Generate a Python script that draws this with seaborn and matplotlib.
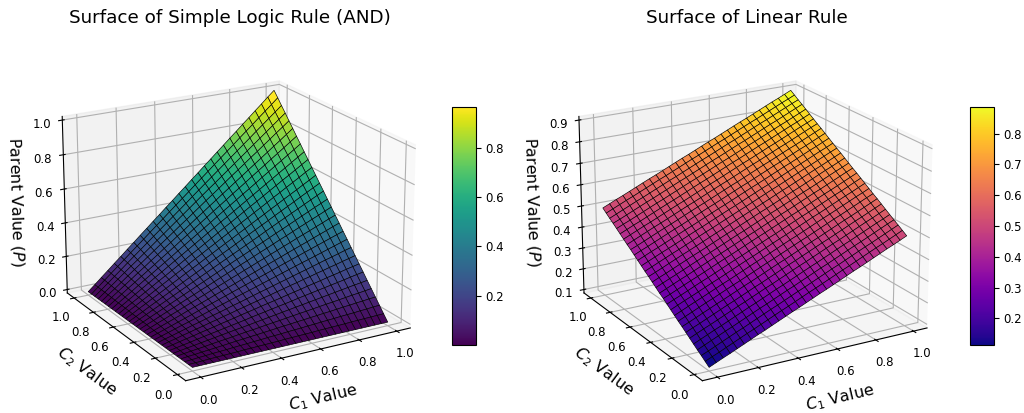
import matplotlib
matplotlib.use('Agg')
import matplotlib.pyplot as plt
import seaborn as sns
import numpy as np

c_values = [0, .0345, .0690, .1034, .1379, .1724, .2069, .2414, .2759, .3103,
            .3448, .3793, .4138, .4483, .4828, .5172, .5517, .5862, .6207, .6552,
            .6897, .7241, .7586, .7931, .8276, .8621, .8966, .9310, .9655, 1.0]

# строки - C2, столбцы - C1
and_values = [
    [.000, .000, .000, .000, .000, .000, .000, .000, .000, .000, .000, .000, .000, .000, .000, .000, .000, .000, .000, .000, .000, .000, .000, .000, .000, .000, .000, .000, .000, .000],
    [.000, .001, .002, .004, .005, .006, .007, .008, .010, .011, .012, .013, .014, .015, .017, .018, .019, .020, .021, .023, .024, .025, .026, .027, .029, .030, .031, .032, .033, .034],
    [.000, .002, .005, .007, .010, .012, .014, .017, .019, .021, .024, .026, .029, .031, .033, .036, .038, .040, .043, .045, .048, .050, .052, .055, .057, .059, .062, .064, .067, .069],
    [.000, .004, .007, .011, .014, .018, .021, .025, .029, .032, .036, .039, .043, .046, .050, .054, .057, .061, .064, .068, .071, .075, .078, .082, .086, .089, .093, .096, .100, .103],
    [.000, .005, .010, .014, .019, .024, .029, .033, .038, .043, .048, .052, .057, .062, .067, .071, .076, .081, .086, .090, .095, .100, .105, .109, .114, .119, .124, .128, .133, .138],
    [.000, .006, .012, .018, .024, .030, .036, .042, .048, .054, .059, .065, .071, .077, .083, .089, .095, .101, .107, .113, .119, .125, .131, .137, .143, .149, .155, .161, .166, .172],
    [.000, .007, .014, .021, .029, .036, .043, .050, .057, .064, .071, .078, .086, .093, .100, .107, .114, .121, .128, .136, .143, .150, .157, .164, .171, .178, .185, .193, .200, .207],
    [.000, .008, .017, .025, .033, .042, .050, .058, .067, .075, .083, .092, .100, .108, .117, .125, .133, .141, .150, .158, .166, .175, .183, .191, .200, .208, .216, .225, .233, .241],
    [.000, .010, .019, .029, .038, .048, .057, .067, .076, .086, .095, .105, .114, .124, .133, .143, .152, .162, .171, .181, .190, .200, .209, .219, .228, .238, .247, .257, .266, .276],
    [.000, .011, .021, .032, .043, .054, .064, .075, .086, .096, .107, .118, .128, .139, .150, .161, .171, .182, .193, .203, .214, .225, .235, .246, .257, .268, .278, .289, .300, .310],
    [.000, .012, .024, .036, .048, .059, .071, .083, .095, .107, .119, .131, .143, .155, .166, .178, .190, .202, .214, .226, .238, .250, .262, .273, .285, .297, .309, .321, .333, .345],
    [.000, .013, .026, .039, .052, .065, .078, .092, .105, .118, .131, .144, .157, .170, .183, .196, .209, .222, .235, .249, .262, .275, .288, .301, .314, .327, .340, .353, .366, .379],
    [.000, .014, .029, .043, .057, .071, .086, .100, .114, .128, .143, .157, .171, .185, .200, .214, .228, .243, .257, .271, .285, .300, .314, .328, .342, .357, .371, .385, .400, .414],
    [.000, .015, .031, .046, .062, .077, .093, .108, .124, .139, .155, .170, .185, .201, .216, .232, .247, .263, .278, .294, .309, .325, .340, .356, .371, .386, .402, .417, .433, .448],
    [.000, .017, .033, .050, .067, .083, .100, .117, .133, .150, .166, .183, .200, .216, .233, .250, .266, .283, .300, .316, .333, .350, .366, .383, .400, .416, .433, .449, .466, .483],
    [.000, .018, .036, .054, .071, .089, .107, .125, .143, .161, .178, .196, .214, .232, .250, .268, .285, .303, .321, .339, .357, .375, .392, .410, .428, .446, .464, .482, .499, .517],
    [.000, .019, .038, .057, .076, .095, .114, .133, .152, .171, .190, .209, .228, .247, .266, .285, .304, .323, .342, .361, .381, .400, .419, .438, .457, .476, .495, .514, .533, .552],
    [.000, .020, .040, .061, .081, .101, .121, .141, .162, .182, .202, .222, .243, .263, .283, .303, .323, .344, .364, .384, .404, .424, .445, .465, .485, .505, .526, .546, .566, .586],
    [.000, .021, .043, .064, .086, .107, .128, .150, .171, .193, .214, .235, .257, .278, .300, .321, .342, .364, .385, .407, .428, .449, .471, .492, .514, .535, .556, .578, .599, .621],
    [.000, .023, .045, .068, .090, .113, .136, .158, .181, .203, .226, .249, .271, .294, .316, .339, .361, .384, .407, .429, .452, .474, .497, .520, .542, .565, .587, .610, .633, .655],
    [.000, .024, .048, .071, .095, .119, .143, .166, .190, .214, .238, .262, .285, .309, .333, .357, .381, .404, .428, .452, .476, .499, .523, .547, .571, .595, .618, .642, .666, .690],
    [.000, .025, .050, .075, .100, .125, .150, .175, .200, .225, .250, .275, .300, .325, .350, .375, .400, .424, .449, .474, .499, .524, .549, .574, .599, .624, .649, .674, .699, .724],
    [.000, .026, .052, .078, .105, .131, .157, .183, .209, .235, .262, .288, .314, .340, .366, .392, .419, .445, .471, .497, .523, .549, .575, .602, .628, .654, .680, .706, .732, .759],
    [.000, .027, .055, .082, .109, .137, .164, .191, .219, .246, .273, .301, .328, .356, .383, .410, .438, .465, .492, .520, .547, .574, .602, .629, .656, .684, .711, .738, .766, .793],
    [.000, .029, .057, .086, .114, .143, .171, .200, .228, .257, .285, .314, .342, .371, .400, .428, .457, .485, .514, .542, .571, .599, .628, .656, .685, .713, .742, .770, .799, .828],
    [.000, .030, .059, .089, .119, .149, .178, .208, .238, .268, .297, .327, .357, .386, .416, .446, .476, .505, .535, .565, .595, .624, .654, .684, .713, .743, .773, .803, .832, .862],
    [.000, .031, .062, .093, .124, .155, .185, .216, .247, .278, .309, .340, .371, .402, .433, .464, .495, .526, .556, .587, .618, .649, .680, .711, .742, .773, .804, .835, .866, .897],
    [.000, .032, .064, .096, .128, .161, .193, .225, .257, .289, .321, .353, .385, .417, .449, .482, .514, .546, .578, .610, .642, .674, .706, .738, .770, .803, .835, .867, .899, .931],
    [.000, .033, .067, .100, .133, .166, .200, .233, .266, .300, .333, .366, .400, .433, .466, .499, .533, .566, .599, .633, .666, .699, .732, .766, .799, .832, .866, .899, .932, .966],
    [.000, .034, .069, .103, .138, .172, .207, .241, .276, .310, .345, .379, .414, .448, .483, .517, .552, .586, .621, .655, .690, .724, .759, .793, .828, .862, .897, .931, .966, 1.000],
]

linear_values = [
    [.100, .114, .128, .141, .155, .169, .183, .197, .210, .224, .238, .252, .266, .279, .293, .307, .321, .334, .348, .362, .376, .390, .403, .417, .431, .445, .459, .472, .486, .500],
    [.114, .128, .141, .155, .169, .183, .197, .210, .224, .238, .252, .266, .279, .293, .307, .321, .334, .348, .362, .376, .390, .403, .417, .431, .445, .459, .472, .486, .500, .514],
    [.128, .141, .155, .169, .183, .197, .210, .224, .238, .252, .266, .279, .293, .307, .321, .334, .348, .362, .376, .390, .403, .417, .431, .445, .459, .472, .486, .500, .514, .528],
    [.141, .155, .169, .183, .197, .210, .224, .238, .252, .266, .279, .293, .307, .321, .334, .348, .362, .376, .390, .403, .417, .431, .445, .459, .472, .486, .500, .514, .528, .541],
    [.155, .169, .183, .197, .210, .224, .238, .252, .266, .279, .293, .307, .321, .334, .348, .362, .376, .390, .403, .417, .431, .445, .459, .472, .486, .500, .514, .528, .541, .555],
    [.169, .183, .197, .210, .224, .238, .252, .266, .279, .293, .307, .321, .334, .348, .362, .376, .390, .403, .417, .431, .445, .459, .472, .486, .500, .514, .528, .541, .555, .569],
    [.183, .197, .210, .224, .238, .252, .266, .279, .293, .307, .321, .334, .348, .362, .376, .390, .403, .417, .431, .445, .459, .472, .486, .500, .514, .528, .541, .555, .569, .583],
    [.197, .210, .224, .238, .252, .266, .279, .293, .307, .321, .334, .348, .362, .376, .390, .403, .417, .431, .445, .459, .472, .486, .500, .514, .528, .541, .555, .569, .583, .597],
    [.210, .224, .238, .252, .266, .279, .293, .307, .321, .334, .348, .362, .376, .390, .403, .417, .431, .445, .459, .472, .486, .500, .514, .528, .541, .555, .569, .583, .597, .610],
    [.224, .238, .252, .266, .279, .293, .307, .321, .334, .348, .362, .376, .390, .403, .417, .431, .445, .459, .472, .486, .500, .514, .528, .541, .555, .569, .583, .597, .610, .624],
    [.238, .252, .266, .279, .293, .307, .321, .334, .348, .362, .376, .390, .403, .417, .431, .445, .459, .472, .486, .500, .514, .528, .541, .555, .569, .583, .597, .610, .624, .638],
    [.252, .266, .279, .293, .307, .321, .334, .348, .362, .376, .390, .403, .417, .431, .445, .459, .472, .486, .500, .514, .528, .541, .555, .569, .583, .597, .610, .624, .638, .652],
    [.266, .279, .293, .307, .321, .334, .348, .362, .376, .390, .403, .417, .431, .445, .459, .472, .486, .500, .514, .528, .541, .555, .569, .583, .597, .610, .624, .638, .652, .666],
    [.279, .293, .307, .321, .334, .348, .362, .376, .390, .403, .417, .431, .445, .459, .472, .486, .500, .514, .528, .541, .555, .569, .583, .597, .610, .624, .638, .652, .666, .679],
    [.293, .307, .321, .334, .348, .362, .376, .390, .403, .417, .431, .445, .459, .472, .486, .500, .514, .528, .541, .555, .569, .583, .597, .610, .624, .638, .652, .666, .679, .693],
    [.307, .321, .334, .348, .362, .376, .390, .403, .417, .431, .445, .459, .472, .486, .500, .514, .528, .541, .555, .569, .583, .597, .610, .624, .638, .652, .666, .679, .693, .707],
    [.321, .334, .348, .362, .376, .390, .403, .417, .431, .445, .459, .472, .486, .500, .514, .528, .541, .555, .569, .583, .597, .610, .624, .638, .652, .666, .679, .693, .707, .721],
    [.334, .348, .362, .376, .390, .403, .417, .431, .445, .459, .472, .486, .500, .514, .528, .541, .555, .569, .583, .597, .610, .624, .638, .652, .666, .679, .693, .707, .721, .734],
    [.348, .362, .376, .390, .403, .417, .431, .445, .459, .472, .486, .500, .514, .528, .541, .555, .569, .583, .597, .610, .624, .638, .652, .666, .679, .693, .707, .721, .734, .748],
    [.362, .376, .390, .403, .417, .431, .445, .459, .472, .486, .500, .514, .528, .541, .555, .569, .583, .597, .610, .624, .638, .652, .666, .679, .693, .707, .721, .734, .748, .762],
    [.376, .390, .403, .417, .431, .445, .459, .472, .486, .500, .514, .528, .541, .555, .569, .583, .597, .610, .624, .638, .652, .666, .679, .693, .707, .721, .734, .748, .762, .776],
    [.390, .403, .417, .431, .445, .459, .472, .486, .500, .514, .528, .541, .555, .569, .583, .597, .610, .624, .638, .652, .666, .679, .693, .707, .721, .734, .748, .762, .776, .790],
    [.403, .417, .431, .445, .459, .472, .486, .500, .514, .528, .541, .555, .569, .583, .597, .610, .624, .638, .652, .666, .679, .693, .707, .721, .734, .748, .762, .776, .790, .803],
    [.417, .431, .445, .459, .472, .486, .500, .514, .528, .541, .555, .569, .583, .597, .610, .624, .638, .652, .666, .679, .693, .707, .721, .734, .748, .762, .776, .790, .803, .817],
    [.431, .445, .459, .472, .486, .500, .514, .528, .541, .555, .569, .583, .597, .610, .624, .638, .652, .666, .679, .693, .707, .721, .734, .748, .762, .776, .790, .803, .817, .831],
    [.445, .459, .472, .486, .500, .514, .528, .541, .555, .569, .583, .597, .610, .624, .638, .652, .666, .679, .693, .707, .721, .734, .748, .762, .776, .790, .803, .817, .831, .845],
    [.459, .472, .486, .500, .514, .528, .541, .555, .569, .583, .597, .610, .624, .638, .652, .666, .679, .693, .707, .721, .734, .748, .762, .776, .790, .803, .817, .831, .845, .859],
    [.472, .486, .500, .514, .528, .541, .555, .569, .583, .597, .610, .624, .638, .652, .666, .679, .693, .707, .721, .734, .748, .762, .776, .790, .803, .817, .831, .845, .859, .872],
    [.486, .500, .514, .528, .541, .555, .569, .583, .597, .610, .624, .638, .652, .666, .679, .693, .707, .721, .734, .748, .762, .776, .790, .803, .817, .831, .845, .859, .872, .886],
    [.500, .514, .528, .541, .555, .569, .583, .597, .610, .624, .638, .652, .666, .679, .693, .707, .721, .734, .748, .762, .776, .790, .803, .817, .831, .845, .859, .872, .886, .900],
]

W, H = 1024, 413


def draw_surface(left, cax_left, values, palette, title):
    fig = plt.gcf()
    size = 396
    ax = fig.add_axes([left / W, 1 - 425 / H, size / W, size / H], projection='3d')
    c1, c2 = np.meshgrid(c_values, c_values)
    surf = ax.plot_surface(c1, c2, np.array(values), cmap=sns.color_palette(palette, as_cmap=True),
                           edgecolor='k', linewidth=0.45, rstride=1, cstride=1)
    ax.view_init(elev=20, azim=-120)
    ax.set_title(title, fontsize=13.2, x=0.5, y=1.08)
    ax.set_xlabel('$C_1$ Value', fontsize=11.5, labelpad=3)
    ax.set_ylabel('$C_2$ Value', fontsize=11.5, labelpad=3)
    ax.set_zlabel('Parent Value ($P$)', fontsize=11.5, labelpad=1)
    ax.tick_params(labelsize=8.5, pad=1)
    cax = fig.add_axes([cax_left / W, 1 - 345 / H, 24 / W, 238 / H])
    fig.colorbar(surf, cax=cax)
    cax.tick_params(labelsize=8.5)
    return ax


fig = plt.figure(figsize=(W / 100, H / 100), dpi=100)
draw_surface(32, 452, and_values, 'viridis', 'Surface of Simple Logic Rule (AND)')
draw_surface(548.7, 970, linear_values, 'plasma', 'Surface of Linear Rule')
fig.savefig('out.png', dpi=100)
